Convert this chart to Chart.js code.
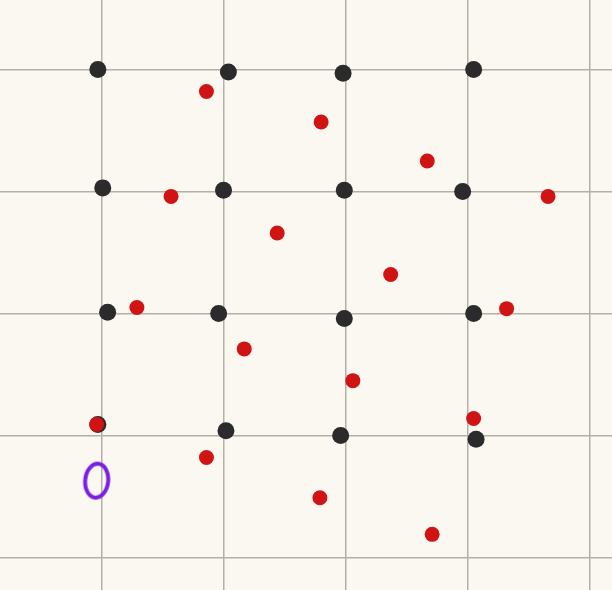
<!DOCTYPE html>
<html>
<head>
<meta charset="utf-8">
<script src="https://cdn.jsdelivr.net/npm/chart.js@4"></script>
<style>
  html, body { margin: 0; padding: 0; background: #fbf8f1; }
  #wrap { width: 612px; height: 590px; }
</style>
</head>
<body>
<div id="wrap"><canvas id="dots-chart"></canvas></div>
<script>
// grid lines sit on whole numbers
const gridX = [1, 2, 3, 4, 5];
const gridY = [0, 1, 2, 3, 4];

// black dots, roughly on the grid crossings
const blackX = [0.97, 2.04, 2.98, 4.05, 1.01, 2.00, 2.99, 3.96, 1.05, 1.96, 2.99, 4.05, 0.97, 2.02, 2.96, 4.07];
const blackY = [4.00, 3.98, 3.97, 4.00, 3.03, 3.01, 3.01, 3.00, 2.01, 2.00, 1.96, 2.00, 1.09, 1.04, 1.00, 0.97];

// red dots, scattered
const redX = [1.86, 1.57, 2.44, 2.80, 3.67, 4.66, 3.37, 1.29, 2.17, 0.96, 1.86, 4.32, 3.06, 4.05, 2.79, 3.71];
const redY = [3.82, 2.96, 2.66, 3.57, 3.25, 2.96, 2.32, 2.05, 1.71, 1.09, 0.82, 2.04, 1.45, 1.14, 0.49, 0.19];

// the one purple ring
const ringX = [0.96];
const ringY = [0.63];

const toPoints = (xs, ys) => xs.map((x, i) => ({ x: x, y: ys[i] }));

// hollow upright ellipse for the ring
function ringStyle() {
  let c = document.createElement('canvas');
  c.width = 34; c.height = 44;
  let g = c.getContext('2d');
  g.strokeStyle = '#7a1fe0';
  g.lineWidth = 4;
  g.beginPath();
  g.ellipse(17, 22, 11.5, 17, 0.1, 0, Math.PI * 2);
  g.stroke();
  return c;
}

const gridOpts = (vals) => ({
  type: 'linear',
  display: true,
  grid: {
    color: '#b4b0a9',
    lineWidth: 1.5,
    drawTicks: false,
  },
  border: { display: false },
  ticks: { display: false, stepSize: 1 },
  afterBuildTicks: (axis) => {
    axis.ticks = vals.map((v) => ({ value: v }));
  },
});

let ctx = document.getElementById('dots-chart');
new Chart(ctx, {
  type: 'scatter',
  data: {
    datasets: [
      {
        label: 'red',
        data: toPoints(redX, redY),
        backgroundColor: '#d01414',
        borderColor: '#d01414',
        borderWidth: 0,
        pointRadius: 7.5,
      },
      {
        label: 'black',
        data: toPoints(blackX, blackY),
        backgroundColor: '#2b2b2b',
        borderColor: '#2b2b2b',
        borderWidth: 0,
        pointRadius: 8.5,
      },
      {
        label: 'ring',
        data: toPoints(ringX, ringY),
        pointStyle: ringStyle(),
      },
    ]
  },
  options: {
    responsive: true,
    maintainAspectRatio: false,
    animation: false,
    layout: { padding: 0, autoPadding: false },
    plugins: {
      legend: { display: false },
      tooltip: { enabled: false },
    },
    scales: {
      x: Object.assign(gridOpts(gridX), { min: 0.168, max: 5.184 }),
      y: Object.assign(gridOpts(gridY), { min: -0.266, max: 4.570 }),
    },
  }
});
</script>
</body>
</html>
